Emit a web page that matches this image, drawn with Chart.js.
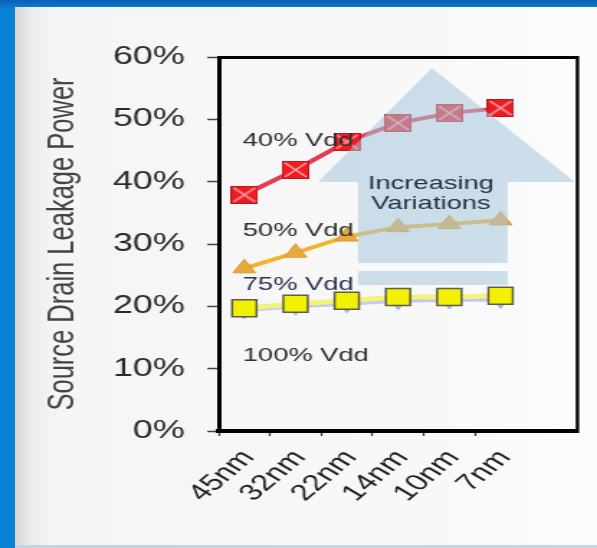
<!DOCTYPE html>
<html>
<head>
<meta charset="utf-8">
<script src="https://cdn.jsdelivr.net/npm/chart.js@4.4.1/dist/chart.umd.min.js"></script>
<style>
  html, body { margin: 0; padding: 0; }
  body { width: 597px; height: 548px; overflow: hidden; position: relative; background: #0a80d6; }
  #topband { position: absolute; left: 0; top: 0; width: 597px; height: 8px; background: linear-gradient(to bottom, #0760b5, #0b7bd2); }
  #panel { position: absolute; left: 15px; top: 7px; width: 582px; height: 538px;
           background: linear-gradient(to right, #d6d6d6 0px, #ececec 16px, #f5f5f5 40px, #f8f8f8 70%, #fcfcfc 100%); }
  #foot { position: absolute; left: 15px; top: 545px; width: 582px; height: 3px; background: #c9d4dc; }
  /* the chart is laid out narrow and widened as a whole */
  #stage { position: absolute; left: 0; top: 0; width: 415px; height: 548px; transform: scaleX(1.4386); transform-origin: 0 0; }
</style>
</head>
<body>
<div id="topband"></div>
<div id="panel"></div>
<div id="foot"></div>
<div id="stage"><canvas id="chart"></canvas></div>
<script>
// Technology nodes (the last slot is left empty)
const categories = ['45nm', '32nm', '22nm', '14nm', '10nm', '7nm', ''];

// Source-drain leakage power share, percent
const vdd40  = [37.9, 41.9, 46.4, 49.4, 51.0, 51.8];
const vdd50  = [26.1, 28.6, 31.2, 32.7, 33.2, 33.8];
const vdd75  = [19.4, 20.0, 20.4, 20.9, 21.0, 21.1];
const vdd100 = [19.7, 20.4, 20.9, 21.5, 21.5, 21.7];

const yTickLabels = ['0%', '10%', '20%', '30%', '40%', '50%', '60%'];
const seriesNames = ['40% Vdd', '50% Vdd', '75% Vdd', '100% Vdd'];
const arrowCaption = ['Increasing', 'Variations'];

// Where the captions sit, in (node index, percent)
const captionAnchors = [[-0.03, 46.5], [-0.03, 32.2], [-0.03, 23.4], [-0.03, 12.0]];
const arrowCaptionAnchors = [[3.64, 39.6], [3.64, 36.4]];

// Striped up-arrow outline, in (node index, percent)
const arrowHead  = { apex: [3.66, 58.24], left: [1.44, 39.95], right: [6.45, 39.95] };
const arrowShaft = { left: 2.22, right: 5.14, bands: [[39.95, 26.95], [25.67, 23.42]] };

const FONT = "'Liberation Sans', Arial, sans-serif";

function crossSquare(w, h) {
  const c = document.createElement('canvas');
  c.width = w; c.height = h;
  const g = c.getContext('2d');
  g.fillStyle = '#ee1d24';
  g.fillRect(0, 0, w, h);
  g.strokeStyle = '#c3141b';
  g.lineWidth = 1;
  g.strokeRect(0.5, 0.5, w - 1, h - 1);
  g.strokeStyle = '#f6a5a8';
  g.lineWidth = 1.6;
  g.beginPath();
  g.moveTo(2, 2); g.lineTo(w - 2, h - 2);
  g.moveTo(w - 2, 2); g.lineTo(2, h - 2);
  g.stroke();
  return c;
}

const frame = {
  id: 'frame',
  beforeDatasetsDraw(chart) {
    const { ctx, chartArea: a } = chart;
    ctx.save();
    ctx.strokeStyle = '#000';
    ctx.lineWidth = 3;
    ctx.beginPath();
    ctx.moveTo(a.left, a.top + 0.5);
    ctx.lineTo(a.right, a.top + 0.5);
    ctx.stroke();
    ctx.lineWidth = 2.4;
    ctx.beginPath();
    ctx.moveTo(a.right, a.top - 1);
    ctx.lineTo(a.right, a.bottom + 2);
    ctx.stroke();
    ctx.restore();
  }
};

const overlay = {
  id: 'overlay',
  afterDatasetsDraw(chart) {
    const { ctx, chartArea: a } = chart;
    const xs = chart.scales.x, ys = chart.scales.y;
    const px = i => xs.getPixelForValue(i);
    const py = v => ys.getPixelForValue(v);

    ctx.save();
    ctx.beginPath();
    ctx.rect(a.left, a.top, a.right - a.left, a.bottom - a.top);
    ctx.clip();
    ctx.fillStyle = 'rgba(168, 199, 223, 0.55)';
    ctx.beginPath();
    ctx.moveTo(px(arrowHead.apex[0]), py(arrowHead.apex[1]));
    ctx.lineTo(px(arrowHead.right[0]), py(arrowHead.right[1]));
    ctx.lineTo(px(arrowHead.left[0]), py(arrowHead.left[1]));
    ctx.closePath();
    ctx.fill();
    arrowShaft.bands.forEach(([hi, lo]) => {
      ctx.fillRect(px(arrowShaft.left), py(hi), px(arrowShaft.right) - px(arrowShaft.left), py(lo) - py(hi));
    });
    ctx.restore();

    ctx.save();
    ctx.textBaseline = 'middle';
    ctx.font = `19px ${FONT}`;
    ctx.textAlign = 'left';
    seriesNames.forEach((t, k) => {
      ctx.fillStyle = k === 2 ? '#2a3350' : '#2e2e2e';
      ctx.fillText(t, px(captionAnchors[k][0]), py(captionAnchors[k][1]));
    });
    ctx.font = `19px ${FONT}`;
    ctx.textAlign = 'center';
    ctx.fillStyle = '#223344';
    arrowCaption.forEach((t, k) => {
      ctx.fillText(t, px(arrowCaptionAnchors[k][0]), py(arrowCaptionAnchors[k][1]));
    });
    ctx.restore();
  }
};

new Chart(document.getElementById('chart'), {
  type: 'line',
  data: {
    labels: categories,
    datasets: [
      {
        label: seriesNames[0], data: vdd40, order: 1,
        borderColor: '#e23c50', borderWidth: 4,
        pointStyle: crossSquare(19, 18), pointRadius: 9
      },
      {
        label: seriesNames[1], data: vdd50, order: 2,
        borderColor: '#f0b431', borderWidth: 4,
        pointStyle: 'triangle', pointRadius: 9,
        pointBackgroundColor: '#e8a83a', pointBorderColor: '#d99a30', pointBorderWidth: 1
      },
      {
        label: seriesNames[2], data: vdd75, order: 4,
        borderColor: '#c3c9f6', borderWidth: 4,
        pointStyle: 'triangle', pointRotation: 180, pointRadius: 9,
        pointBackgroundColor: '#a7b0f0', pointBorderColor: '#a7b0f0', pointBorderWidth: 1
      },
      {
        label: seriesNames[3], data: vdd100, order: 3,
        borderColor: '#f3f27a', borderWidth: 5,
        pointStyle: 'rect', pointRadius: 12,
        pointBackgroundColor: '#f1f100', pointBorderColor: '#5c5c50', pointBorderWidth: 1.5
      }
    ]
  },
  options: {
    responsive: true,
    maintainAspectRatio: false,
    animation: false,
    events: [],
    layout: { padding: { top: 57, right: 13.6, bottom: 0, left: 0 } },
    plugins: { legend: { display: false }, tooltip: { enabled: false } },
    scales: {
      x: {
        type: 'category',
        offset: true,
        grid: {
          offset: true, drawOnChartArea: false, drawTicks: true, tickLength: 5, tickWidth: 1.2,
          tickColor: c => (c.index <= 5 ? '#333' : 'rgba(0,0,0,0)')
        },
        border: { display: true, color: '#000', width: 4 },
        ticks: {
          autoSkip: false, maxRotation: 50, minRotation: 50, padding: 9, labelOffset: 3,
          color: '#222', font: { family: FONT, size: 23 }
        },
        afterFit: s => { s.height = 117; }
      },
      y: {
        min: 0, max: 60,
        grid: { drawOnChartArea: false, drawTicks: true, tickLength: 8, tickWidth: 1.5, tickColor: '#444' },
        border: { display: true, color: '#000', width: 3 },
        ticks: {
          stepSize: 10, padding: 15.5, color: '#2a2a2a', font: { family: FONT, size: 25 },
          callback: (v, i) => yTickLabels[i]
        },
        title: {
          display: true, text: 'Source Drain Leakage Power', color: '#444',
          font: { family: FONT, size: 25.5 }, padding: { top: 29, bottom: 0 }
        },
        afterFit: s => { s.width = 152; }
      }
    }
  },
  plugins: [frame, overlay]
});
</script>
</body>
</html>
